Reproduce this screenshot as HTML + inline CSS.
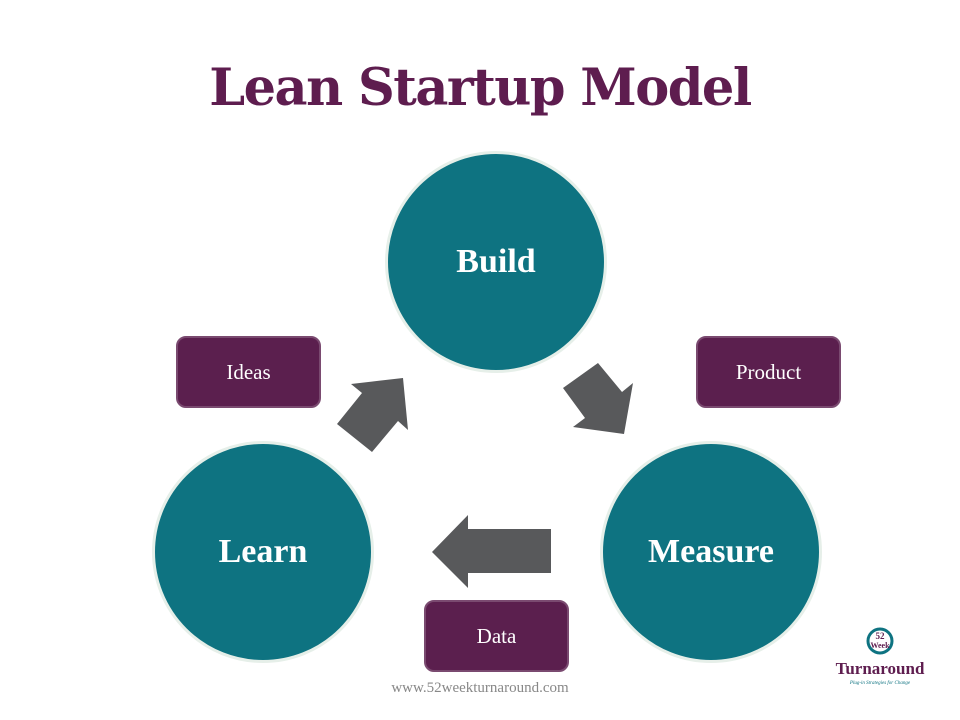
<!DOCTYPE html>
<html><head><style>
body{margin:0;width:960px;height:720px;background:#fff;overflow:hidden;position:relative;font-family:"Liberation Serif",serif}
.t{position:absolute;left:0;width:960px;top:58px;text-align:center;font-size:51px;font-weight:bold;color:#5e1d4f;font-family:"DejaVu Serif","Liberation Serif",serif;letter-spacing:-1.5px}
.c{position:absolute;width:216px;height:216px;border-radius:50%;background:#0e7381;border:3px solid #e6efe9;color:#fff;font-weight:bold;font-size:34px;display:flex;align-items:center;justify-content:center}
.b{position:absolute;width:141px;height:68px;border-radius:10px;background:#5b1f4e;border:2px solid #7a4a70;color:#fff;font-size:21px;display:flex;align-items:center;justify-content:center}
</style></head><body>
<div class="t">Lean Startup Model</div>
<div class="c" style="left:385px;top:151px">Build</div>
<div class="c" style="left:152px;top:441px">Learn</div>
<div class="c" style="left:600px;top:441px">Measure</div>
<div class="b" style="left:176px;top:336px">Ideas</div>
<div class="b" style="left:696px;top:336px">Product</div>
<div class="b" style="left:424px;top:600px">Data</div>
<svg width="960" height="720" style="position:absolute;left:0;top:0">
<g fill="#58595b">
<polygon points="403,378 408,430 398,421 372,452 337,424 362,393 351,384"/>
<polygon points="598,363 622,392 633,383 624,434 573,427 585,418 563,388"/>
<polygon points="432,552 468,515 468,529 551,529 551,573 468,573 468,588"/>
</g>
<circle cx="880" cy="641" r="12" fill="none" stroke="#0e7381" stroke-width="3"/>
<text x="880" y="639" font-size="9" text-anchor="middle" fill="#5e1d4f" font-weight="bold" font-family="Liberation Serif">52</text>
<text x="880" y="648" font-size="8" text-anchor="middle" fill="#5e1d4f" font-weight="bold" font-family="Liberation Serif">Week</text>
<text x="880" y="674" font-size="17" text-anchor="middle" fill="#5e1d4f" font-weight="bold" font-family="Liberation Serif">Turnaround</text>
<text x="880" y="684" font-size="5" text-anchor="middle" fill="#0e7381" font-style="italic" font-family="Liberation Serif">Plug-in Strategies for Change</text>
<text x="480" y="692" font-size="15" text-anchor="middle" fill="#888" font-family="Liberation Serif">www.52weekturnaround.com</text>
</svg>
</body></html>
